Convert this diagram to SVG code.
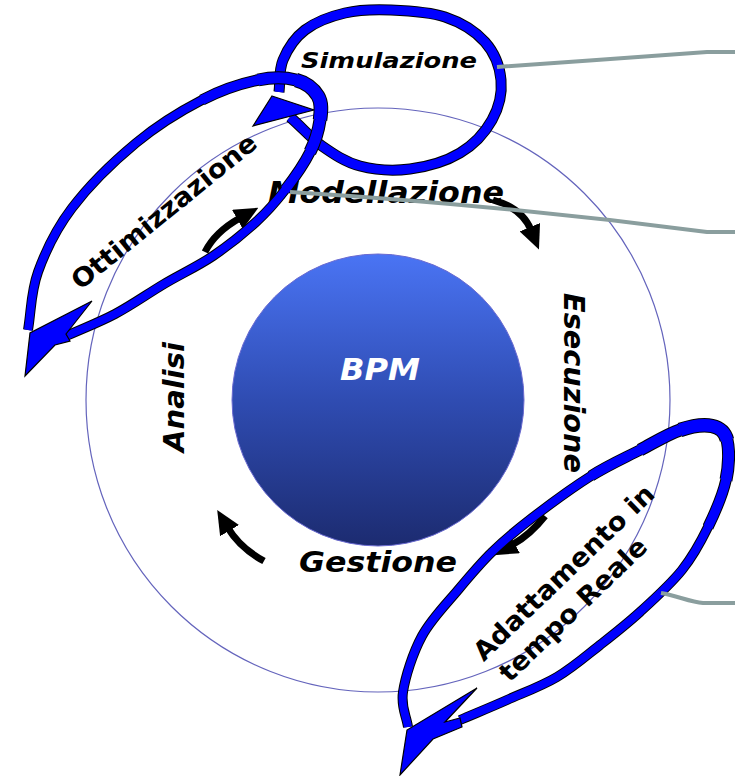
<svg xmlns="http://www.w3.org/2000/svg" width="735" height="776" viewBox="0 0 735 776">
<defs>
<linearGradient id="bpmGrad" x1="0" y1="0" x2="0" y2="1">
<stop offset="0" stop-color="#4a74f4"/>
<stop offset="0.5" stop-color="#2f4cb2"/>
<stop offset="1" stop-color="#1c2b70"/>
</linearGradient>
<marker id="ah" markerUnits="userSpaceOnUse" markerWidth="24" markerHeight="22" viewBox="0 0 24 22" refX="3" refY="11" orient="auto">
<path d="M0,0 L24,11 L0,22 z" fill="#000"/>
</marker>
<path id="po" d="M28,330 C31.3,310.7 30.7,292.3 38,272 C45.3,251.7 55.7,229.5 72,208 C88.3,186.5 114.3,161 136,143 C157.7,125 181.7,110.5 202,100 C222.3,89.5 242.3,83.3 258,80 C273.7,76.7 286,77.3 296,80 C306,82.7 314,89.3 318,96 C322,102.7 321.3,110.7 320,120 C318.7,129.3 315.8,140.3 310,152 C304.2,163.7 294,178.3 285,190 C276,201.7 268,211 256,222 C244,233 228.3,245.7 213,256 C197.7,266.3 180.3,274.3 164,284 C147.7,293.7 131.7,305.2 115,314 C98.3,322.8 81,329.3 64,337"/>
<path id="po-a" d="M202,100 C222.3,89.5 242.3,83.3 258,80"/>
<path id="po-b" d="M258,80 C273.7,76.7 286,77.3 296,80"/>
<path id="po-c" d="M296,80 C306,82.7 314,89.3 318,96 C322,102.7 321.3,110.7 320,120"/>
<path id="po-d" d="M320,120 C318.7,129.3 315.8,140.3 310,152"/>
<path id="po-e" d="M310,152 C304.2,163.7 294,178.3 285,190"/>
<path id="ps" d="M279,92 C280.3,81.3 278.7,70.3 283,60 C287.3,49.7 294.7,37.8 305,30 C315.3,22.2 330.7,16.3 345,13 C359.3,9.7 374.3,9.3 391,10 C407.7,10.7 429.3,11.7 445,17 C460.7,22.3 475.7,31.5 485,42 C494.3,52.5 499.8,67 501,80 C502.2,93 498.8,107.8 492,120 C485.2,132.2 473.7,144.8 460,153 C446.3,161.2 426.7,166.8 410,169 C393.3,171.2 374.7,169.8 360,166 C345.3,162.2 333.2,153.8 322,146 C310.8,138.2 302.7,128 290,117"/>
<path id="pa" d="M408,727 C406.3,715.3 400.7,707.2 403,692 C405.3,676.8 412.8,653 422,636 C431.2,619 446.3,604 458,590 C469.7,576 479.7,564 492,552 C504.3,540 515.5,530.7 532,518 C548.5,505.3 573,487.3 591,476 C609,464.7 625.2,457.7 640,450 C654.8,442.3 668,434 680,430 C692,426 704.2,424.3 712,426 C719.8,427.7 724.7,431 727,440 C729.3,449 729.2,465.5 726,480 C722.8,494.5 715.3,512 708,527 C700.7,542 693.3,555.8 682,570 C670.7,584.2 653.7,599.5 640,612 C626.3,624.5 613.8,634.2 600,645 C586.2,655.8 572.5,667.8 557,677 C541.5,686.2 523.2,692.8 507,700 C490.8,707.2 475.7,713.3 460,720"/>
<path id="pa-a" d="M591,476 C609,464.7 625.2,457.7 640,450"/>
<path id="pa-b" d="M640,450 C654.8,442.3 668,434 680,430"/>
<path id="pa-c" d="M680,430 C692,426 704.2,424.3 712,426 C719.8,427.7 724.7,431 727,440"/>
<path id="pa-d" d="M727,440 C729.3,449 729.2,465.5 726,480"/>
<path id="pa-e" d="M726,480 C722.8,494.5 715.3,512 708,527"/>
</defs>
<style>
.lbl{font-family:"DejaVu Sans","Liberation Sans",sans-serif;font-weight:bold;fill:#000}
.it{font-style:italic}
.ring{fill:none;stroke:#6464bc;stroke-width:1.2}
.lo{fill:none;stroke:#000;stroke-width:10}
.li{fill:none;stroke:#0000ff;stroke-width:8}
.w1.lo{stroke-width:11.5}.w1.li{stroke-width:9.5}
.w2.lo{stroke-width:13}.w2.li{stroke-width:11}
.w3.lo{stroke-width:14.5}.w3.li{stroke-width:12.5}
.head{fill:#0000ff;stroke:#000;stroke-width:1.2}
.cyc{fill:none;stroke:#000;stroke-width:7;marker-end:url(#ah)}
.leader{fill:none;stroke:#8a9e9e;stroke-width:4}
</style>
<rect width="735" height="776" fill="#fff"/>

<g id="cycle-ring">
<circle class="ring" cx="378" cy="400" r="292"/>
</g>

<g id="node-bpm">
<circle cx="378" cy="400" r="146" fill="url(#bpmGrad)" stroke="#6a6ad0" stroke-width="1"/>
<text class="lbl it" x="380" y="380" font-size="30" style="fill:#fff" text-anchor="middle" textLength="80" lengthAdjust="spacingAndGlyphs">BPM</text>
</g>

<g id="node-modellazione">
<text class="lbl it" x="386" y="203" font-size="30" text-anchor="middle" textLength="236" lengthAdjust="spacingAndGlyphs">Modellazione</text>
</g>
<g id="node-esecuzione">
<text class="lbl it" transform="translate(564,383) rotate(90)" font-size="28" text-anchor="middle" textLength="180" lengthAdjust="spacingAndGlyphs">Esecuzione</text>
</g>
<g id="node-gestione">
<text class="lbl it" x="378" y="572" font-size="28" text-anchor="middle" textLength="158" lengthAdjust="spacingAndGlyphs">Gestione</text>
</g>
<g id="node-analisi">
<text class="lbl it" transform="translate(184,397) rotate(-90)" font-size="28" text-anchor="middle" textLength="110" lengthAdjust="spacingAndGlyphs">Analisi</text>
</g>

<g id="connectors">
<path class="cyc" d="M205,252 Q215,232 240,218"/>
<path class="cyc" d="M493,200 Q522,208 531,230"/>
<path class="cyc" d="M545,516 Q530,535 512,545"/>
<path class="cyc" d="M264,561 Q240,548 228,528"/>
</g>

<g id="node-simulazione">
<use href="#ps" class="lo" style="stroke-width:11"/>
<use href="#ps" class="li" style="stroke-width:9"/>
<polygon class="head" points="272,96 314,110 253,126"/>
<text class="lbl it" x="389" y="68" font-size="22" text-anchor="middle" textLength="176" lengthAdjust="spacingAndGlyphs">Simulazione</text>
</g>

<g id="node-ottimizzazione">
<use href="#po" class="lo"/>
<use href="#po-a" class="lo w1"/>
<use href="#po-e" class="lo w1"/>
<use href="#po-b" class="lo w2"/>
<use href="#po-d" class="lo w2"/>
<use href="#po-c" class="lo w3"/>
<use href="#po" class="li"/>
<use href="#po-a" class="li w1"/>
<use href="#po-e" class="li w1"/>
<use href="#po-b" class="li w2"/>
<use href="#po-d" class="li w2"/>
<use href="#po-c" class="li w3"/>
<polygon class="head" points="92,301 30,333 25,376 55,345 70,341 66,334"/>
<text class="lbl" transform="translate(169.5,218.5) rotate(-39)" font-size="26" text-anchor="middle" textLength="230" lengthAdjust="spacingAndGlyphs">Ottimizzazione</text>
</g>

<g id="node-adattamento">
<use href="#pa" class="lo"/>
<use href="#pa-a" class="lo w1"/>
<use href="#pa-e" class="lo w1"/>
<use href="#pa-b" class="lo w2"/>
<use href="#pa-d" class="lo w2"/>
<use href="#pa-c" class="lo w3"/>
<use href="#pa" class="li"/>
<use href="#pa-a" class="li w1"/>
<use href="#pa-e" class="li w1"/>
<use href="#pa-b" class="li w2"/>
<use href="#pa-d" class="li w2"/>
<use href="#pa-c" class="li w3"/>
<polygon class="head" points="477,688 407,730 400,775 433,739 462,727 460,718 445,722"/>
<g transform="translate(570,579) rotate(-44)">
<text class="lbl" x="0" y="0" font-size="26" text-anchor="middle" textLength="240" lengthAdjust="spacingAndGlyphs">Adattamento in</text>
<text class="lbl" x="-19" y="33" font-size="26" text-anchor="middle" textLength="194" lengthAdjust="spacingAndGlyphs">tempo Reale</text>
</g>
</g>

<g id="connectors-leaders">
<path class="leader" d="M497,67 C560,63 650,56 707,52 L735,52"/>
<path class="leader" d="M290,192 Q500,205 707,232 L735,232"/>
<path class="leader" d="M661,593 C678,596 690,602 703,603 L735,603"/>
</g>
</svg>
